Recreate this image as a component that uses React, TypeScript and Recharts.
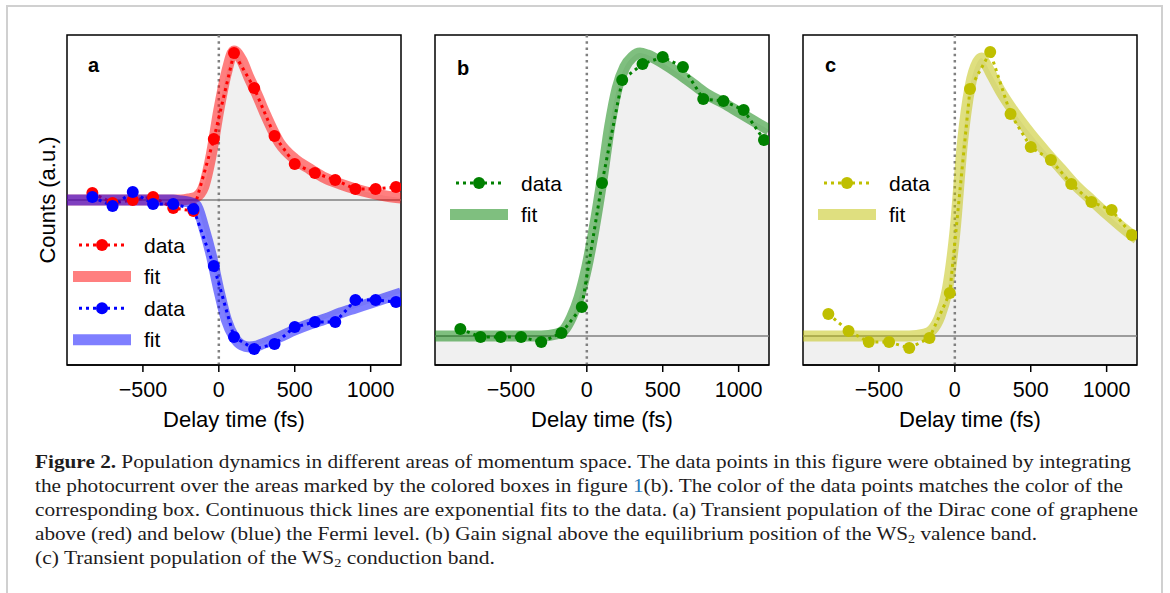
import React from 'react';
import { ComposedChart, Line, Area, XAxis, YAxis, ReferenceLine, ReferenceArea, Legend } from 'recharts';

// delay times of the measured points (fs), shared by all three panels
const delayTimes = [-833, -700, -567, -433, -300, -167, -33, 100, 233, 367, 500, 633, 767, 900, 1033, 1167];

// panel a: graphene Dirac cone above (red) / below (blue) the Fermi level
const redData = [0.07, -0.03, 0.0, 0.03, -0.08, -0.11, 0.61, 1.47, 1.12, 0.64, 0.36, 0.27, 0.2, 0.11, 0.11, 0.13];
const blueData = [0.03, -0.06, 0.08, -0.04, -0.04, -0.09, -0.66, -1.37, -1.49, -1.44, -1.27, -1.22, -1.22, -1.0, -1.0, -1.02];
const fitTimesA = [-1000, -300, -250, -200, -150, -100, -50, 0, 50, 100, 150, 200, 250, 300, 400, 500, 600, 700, 800, 900, 1000, 1100, 1200];
const redFit = [0, 0, 0, 0.01, 0.03, 0.13, 0.45, 0.9, 1.27, 1.49, 1.4, 1.22, 1.06, 0.88, 0.57, 0.41, 0.31, 0.22, 0.16, 0.11, 0.07, 0.04, 0.02];
const blueFit = [0, 0, -0.01, -0.02, -0.05, -0.27, -0.55, -0.9, -1.2, -1.37, -1.45, -1.47, -1.46, -1.43, -1.37, -1.3, -1.24, -1.19, -1.13, -1.08, -1.03, -0.98, -0.93];

// panel b: gain above the WS2 valence band
const greenData = [0.07, -0.01, -0.01, -0.01, -0.06, 0.03, 0.29, 1.53, 2.56, 2.72, 2.79, 2.69, 2.37, 2.35, 2.26, 1.96];
const fitTimesB = [-1000, -300, -200, -150, -100, -50, 0, 50, 100, 150, 200, 250, 300, 350, 400, 500, 600, 700, 800, 900, 1000, 1100, 1200];
const greenFit = [0, 0, 0.02, 0.06, 0.19, 0.39, 0.69, 1.09, 1.56, 2.09, 2.48, 2.69, 2.79, 2.83, 2.81, 2.73, 2.63, 2.52, 2.41, 2.33, 2.24, 2.15, 2.06];

// panel c: WS2 conduction band
const yellowData = [0.22, 0.05, -0.06, -0.06, -0.12, -0.02, 0.43, 2.47, 2.84, 2.22, 1.89, 1.76, 1.52, 1.34, 1.26, 1.01];
const fitTimesC = [-1000, -300, -200, -150, -100, -50, 0, 50, 100, 150, 175, 200, 250, 300, 400, 500, 600, 700, 800, 900, 1000, 1100, 1200];
const yellowFit = [0, 0, 0.02, 0.06, 0.19, 0.46, 1.03, 1.93, 2.49, 2.74, 2.78, 2.73, 2.59, 2.45, 2.22, 2.02, 1.84, 1.67, 1.5, 1.36, 1.22, 1.09, 0.97];

const xTicks = [-500, 0, 500, 1000];
const xDomain: [number, number] = [-1000, 1200];

const SANS = '"Liberation Sans", Arial, sans-serif';
const SERIF = '"Liberation Serif", "Times New Roman", serif';

// chart geometry: plot box is 334 x 330 starting at (60, 35) inside each chart
const CW = 410;
const CH = 440;
const MARGIN = { top: 35, left: 60, right: 16, bottom: 13 };

type Series = { key: string; times: number[]; values: number[]; color: string; kind: 'data' | 'fit' };

const rows = (times: number[], values: number[]) => times.map((t, i) => ({ t, v: values[i] }));

const fmtTick = (v: number) => (v < 0 ? '\u2212' + Math.abs(v) : String(v));

function LegendBox({ items }: { items: Series[] }) {
  return (
    <svg width={140} height={items.length * 31.6 + 6} style={{ display: 'block', overflow: 'visible' }}>
      {items.map((s, i) => {
        const y = 16 + i * 31.6;
        return (
          <g key={s.key}>
            {s.kind === 'data' ? (
              <>
                <line x1={15} x2={62} y1={y} y2={y} stroke={s.color} strokeWidth={3} strokeDasharray="3 4" />
                <circle cx={38} cy={y} r={6} fill={s.color} />
              </>
            ) : (
              <line x1={9} x2={67} y1={y} y2={y} stroke={s.color} strokeOpacity={0.5} strokeWidth={11} />
            )}
            <text x={80} y={y + 7.5} fontSize={21} fontFamily={SANS} fill="#000">
              {s.kind}
            </text>
          </g>
        );
      })}
    </svg>
  );
}

function Panel(props: {
  boxLeft: number;
  yDomain: [number, number];
  fillTimes: number[];
  fillLow: number[] | null;
  fillHigh: number[];
  series: Series[];
  legendItems: Series[];
  legendLeft: number;
  legendTop: number;
}) {
  const { boxLeft, yDomain, fillTimes, fillLow, fillHigh, series, legendItems, legendLeft, legendTop } = props;
  const fillData = fillTimes.map((t, i) => ({ t, range: [fillLow ? fillLow[i] : yDomain[0], fillHigh[i]] }));
  return (
    <div style={{ position: 'absolute', left: boxLeft - MARGIN.left, top: 0 }}>
      <ComposedChart width={CW} height={CH} margin={MARGIN}>
        <XAxis
          dataKey="t"
          type="number"
          domain={xDomain}
          ticks={xTicks}
          allowDataOverflow
          height={62}
          tickSize={7}
          tickMargin={10}
          tickFormatter={fmtTick}
          tick={{ fontSize: 21.5, fontFamily: SANS, fill: '#000' }}
          axisLine={{ stroke: '#000', strokeWidth: 1.5 }}
          tickLine={{ stroke: '#000', strokeWidth: 1.5 }}
          label={{ value: 'Delay time (fs)', position: 'insideBottom', offset: 0, fontSize: 22, fontFamily: SANS, fill: '#000' }}
        />
        <YAxis type="number" domain={yDomain} allowDataOverflow hide />
        <Area
          data={fillData}
          dataKey="range"
          type="monotone"
          fill="#f0f0f0"
          fillOpacity={1}
          stroke="none"
          isAnimationActive={false}
        />
        <ReferenceLine y={0} stroke="#808080" strokeWidth={1.5} />
        <ReferenceLine x={0} stroke="#808080" strokeWidth={2.5} strokeDasharray="2.5 3.8" />
        {series.map((s) =>
          s.kind === 'fit' ? (
            <Line
              key={s.key}
              data={rows(s.times, s.values)}
              dataKey="v"
              name={s.key}
              type="monotone"
              stroke={s.color}
              strokeOpacity={0.5}
              strokeWidth={11}
              dot={false}
              activeDot={false}
              isAnimationActive={false}
            />
          ) : (
            <Line
              key={s.key}
              data={rows(s.times, s.values)}
              dataKey="v"
              name={s.key}
              type="linear"
              stroke={s.color}
              strokeWidth={3}
              strokeDasharray="3 4"
              dot={{ r: 6, fill: s.color, stroke: 'none' }}
              activeDot={false}
              isAnimationActive={false}
            />
          )
        )}
        <ReferenceArea
          x1={xDomain[0]}
          x2={xDomain[1]}
          y1={yDomain[0]}
          y2={yDomain[1]}
          fill="none"
          fillOpacity={0}
          stroke="#000"
          strokeWidth={1.5}
        />
        <Legend
          layout="vertical"
          align="center"
          verticalAlign="middle"
          content={() => <LegendBox items={legendItems} />}
          wrapperStyle={{ left: MARGIN.left + legendLeft, top: MARGIN.top + legendTop, width: 140, height: 'auto' }}
        />
      </ComposedChart>
    </div>
  );
}

const seriesA: Series[] = [
  { key: 'red-data', times: delayTimes, values: redData, color: '#ff0000', kind: 'data' },
  { key: 'red-fit', times: fitTimesA, values: redFit, color: '#ff0000', kind: 'fit' },
  { key: 'blue-data', times: delayTimes, values: blueData, color: '#0000ff', kind: 'data' },
  { key: 'blue-fit', times: fitTimesA, values: blueFit, color: '#0000ff', kind: 'fit' },
];
const seriesB: Series[] = [
  { key: 'green-data', times: delayTimes, values: greenData, color: '#008000', kind: 'data' },
  { key: 'green-fit', times: fitTimesB, values: greenFit, color: '#008000', kind: 'fit' },
];
const seriesC: Series[] = [
  { key: 'yellow-data', times: delayTimes, values: yellowData, color: '#bfbf00', kind: 'data' },
  { key: 'yellow-fit', times: fitTimesC, values: yellowFit, color: '#bfbf00', kind: 'fit' },
];

// draw order inside the plot: fit under its own points, red before blue
const drawOrder = (list: Series[]) => [...list.filter((s) => s.key.startsWith('red')), ...list.filter((s) => !s.key.startsWith('red'))]
  .sort((a, b) => (a.key.split('-')[0] === b.key.split('-')[0] ? (a.kind === 'fit' ? -1 : 1) : 0));

function Caption() {
  const sub = (s: string) => (
    <tspan fontSize={12} baselineShift={-3}>
      {s}
    </tspan>
  );
  const common = { x: 35, fontSize: 18, fontFamily: SERIF, fill: '#1e1c1d', lengthAdjust: 'spacingAndGlyphs' as const };
  return (
    <svg width={1170} height={593} style={{ position: 'absolute', left: 0, top: 0 }}>
      <text {...common} y={468} textLength={1096}>
        <tspan fontWeight="bold">Figure 2.</tspan> Population dynamics in different areas of momentum space. The data points in this figure were obtained by integrating
      </text>
      <text {...common} y={492} textLength={1088}>
        the photocurrent over the areas marked by the colored boxes in figure <tspan fill="#2a7ab8">1</tspan>(b). The color of the data points matches the color of the
      </text>
      <text {...common} y={516} textLength={1103}>
        corresponding box. Continuous thick lines are exponential fits to the data. (a) Transient population of the Dirac cone of graphene
      </text>
      <text {...common} y={540} textLength={1002}>
        above (red) and below (blue) the Fermi level. (b) Gain signal above the equilibrium position of the WS{sub('2')} valence band.
      </text>
      <text {...common} y={564} textLength={460}>
        (c) Transient population of the WS{sub('2')} conduction band.
      </text>
    </svg>
  );
}

export default function App() {
  return (
    <div style={{ position: 'absolute', left: 0, top: 0, width: 1170, height: 593, background: '#fff', overflow: 'hidden' }}>
      <div
        style={{
          position: 'absolute',
          left: 6,
          top: 5,
          width: 1157,
          height: 620,
          border: '2px solid #d0d0d0',
          borderBottom: 'none',
          boxSizing: 'border-box',
        }}
      />
      <Caption />
      <Panel
        boxLeft={67}
        yDomain={[-1.65, 1.65]}
        fillTimes={fitTimesA}
        fillLow={blueFit}
        fillHigh={redFit}
        series={drawOrder(seriesA)}
        legendItems={seriesA}
        legendLeft={-3}
        legendTop={194}
      />
      <Panel
        boxLeft={435}
        yDomain={[-0.29, 3.01]}
        fillTimes={fitTimesB}
        fillLow={null}
        fillHigh={greenFit}
        series={drawOrder(seriesB)}
        legendItems={seriesB}
        legendLeft={6}
        legendTop={132}
      />
      <Panel
        boxLeft={803}
        yDomain={[-0.29, 3.01]}
        fillTimes={fitTimesC}
        fillLow={null}
        fillHigh={yellowFit}
        series={drawOrder(seriesC)}
        legendItems={seriesC}
        legendLeft={6}
        legendTop={132}
      />
      <svg width={1170} height={440} style={{ position: 'absolute', left: 0, top: 0, pointerEvents: 'none' }}>
        <text x={55} y={200} transform="rotate(-90 55 200)" textAnchor="middle" fontSize={22} fontFamily={SANS} fill="#000">
          Counts (a.u.)
        </text>
        <text x={88} y={72} fontSize={20} fontWeight="bold" fontFamily={SANS} fill="#000">a</text>
        <text x={457} y={75} fontSize={20} fontWeight="bold" fontFamily={SANS} fill="#000">b</text>
        <text x={825} y={72} fontSize={20} fontWeight="bold" fontFamily={SANS} fill="#000">c</text>
      </svg>
    </div>
  );
}
